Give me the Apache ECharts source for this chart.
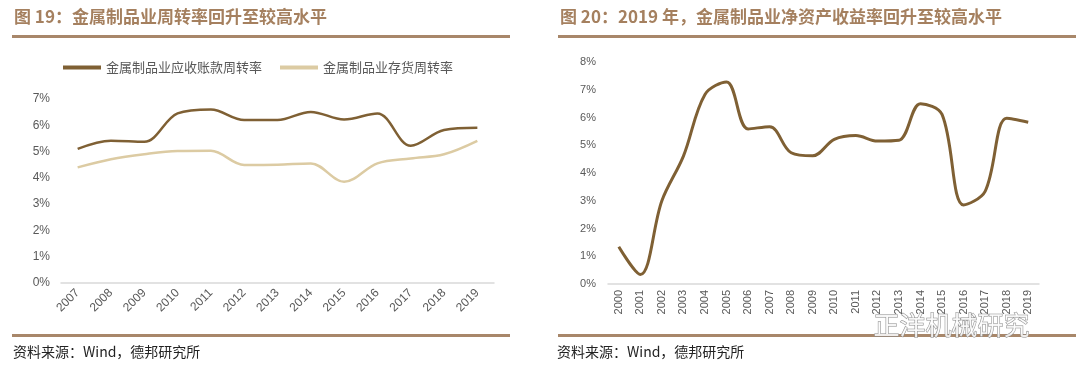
<!DOCTYPE html>
<html>
<head>
<meta charset="utf-8">
<script src="https://cdn.jsdelivr.net/npm/echarts@6/dist/echarts.min.js"></script>
<style>
  html, body { margin: 0; padding: 0; background: #fff; }
  #main { width: 1080px; height: 375px; }
</style>
</head>
<body>
<div id="main"></div>
<script>
// 图19 数据
const years19 = ['2007', '2008', '2009', '2010', '2011', '2012', '2013', '2014', '2015', '2016', '2017', '2018', '2019'];
const receivableTurnover = [5.10, 5.41, 5.37, 6.45, 6.60, 6.20, 6.20, 6.51, 6.22, 6.45, 5.22, 5.82, 5.91];
const inventoryTurnover = [4.40, 4.71, 4.90, 5.02, 5.03, 4.49, 4.50, 4.55, 3.85, 4.55, 4.74, 4.90, 5.41];

// 图20 数据
const years20 = ['2000', '2001', '2002', '2003', '2004', '2005', '2006', '2007', '2008', '2009',
  '2010', '2011', '2012', '2013', '2014', '2015', '2016', '2017', '2018', '2019'];
const roe = [1.34, 0.34, 3.0, 4.61, 6.83, 7.28, 5.59, 5.67, 4.73, 4.62,
  5.21, 5.35, 5.15, 5.18, 6.50, 6.11, 2.85, 3.34, 5.97, 5.83];

const darkBrown = '#7f6034';
const lightTan = '#dccba3';
const ruleColor = '#a8876a';
const titleColor = '#a5805f';
const font = '"Noto Sans CJK SC", "Noto Sans", sans-serif';

const myChart = echarts.init(document.getElementById('main'));

const axisText = { color: '#595959', fontFamily: 'Liberation Sans, Arial, sans-serif' };

myChart.setOption({
  animation: false,
  textStyle: { fontFamily: font },
  legend: {
    left: 58,
    top: 56,
    icon: 'rect',
    itemWidth: 38,
    itemHeight: 4,
    itemGap: 18,
    textStyle: { color: '#595959', fontSize: 13, fontFamily: font },
    data: ['金属制品业应收账款周转率', '金属制品业存货周转率']
  },
  grid: [
    { left: 61, right: 586, top: 99, bottom: 92 },
    { left: 608, right: 41, top: 62, bottom: 91 }
  ],
  xAxis: [
    {
      gridIndex: 0,
      type: 'category',
      data: years19,
      axisTick: { show: false },
      axisLine: { lineStyle: { color: '#d9d9d9', width: 1.5 } },
      axisLabel: Object.assign({ rotate: 45, interval: 0, margin: 8, fontSize: 12 }, axisText)
    },
    {
      gridIndex: 1,
      type: 'category',
      data: years20,
      axisTick: { show: false },
      axisLine: { lineStyle: { color: '#d9d9d9', width: 1.5 } },
      axisLabel: Object.assign({ rotate: 90, interval: 0, margin: 6, fontSize: 11 }, axisText)
    }
  ],
  yAxis: [
    {
      gridIndex: 0,
      type: 'value',
      min: 0, max: 7, interval: 1,
      splitLine: { show: false },
      axisLine: { show: false },
      axisTick: { show: false },
      axisLabel: Object.assign({ formatter: '{value}%', margin: 11, fontSize: 12 }, axisText)
    },
    {
      gridIndex: 1,
      type: 'value',
      min: 0, max: 8, interval: 1,
      splitLine: { show: false },
      axisLine: { show: false },
      axisTick: { show: false },
      axisLabel: Object.assign({ formatter: '{value}%', margin: 12, fontSize: 11 }, axisText)
    }
  ],
  series: [
    {
      name: '金属制品业应收账款周转率',
      type: 'line',
      xAxisIndex: 0, yAxisIndex: 0,
      data: receivableTurnover,
      smooth: 0.35,
      showSymbol: false,
      lineStyle: { color: darkBrown, width: 2.5 },
      itemStyle: { color: darkBrown }
    },
    {
      name: '金属制品业存货周转率',
      type: 'line',
      xAxisIndex: 0, yAxisIndex: 0,
      data: inventoryTurnover,
      smooth: 0.35,
      showSymbol: false,
      lineStyle: { color: lightTan, width: 2.5 },
      itemStyle: { color: lightTan }
    },
    {
      name: '金属制品业净资产收益率',
      type: 'line',
      xAxisIndex: 1, yAxisIndex: 1,
      data: roe,
      smooth: 0.35,
      showSymbol: false,
      lineStyle: { color: darkBrown, width: 3 },
      itemStyle: { color: darkBrown }
    }
  ],
  graphic: [
    // 标题
    { type: 'text', left: 14, top: 8, style: { text: '图 19：金属制品业周转率回升至较高水平', fill: titleColor, font: 'bold 17px ' + font } },
    { type: 'text', left: 560, top: 8, style: { text: '图 20：2019 年，金属制品业净资产收益率回升至较高水平', fill: titleColor, font: 'bold 17px ' + font } },
    // 分隔线
    { type: 'rect', shape: { x: 12, y: 35, width: 498, height: 3 }, style: { fill: ruleColor } },
    { type: 'rect', shape: { x: 558, y: 35, width: 518, height: 3 }, style: { fill: ruleColor } },
    { type: 'rect', shape: { x: 12, y: 334, width: 498, height: 3 }, style: { fill: ruleColor } },
    { type: 'rect', shape: { x: 558, y: 334, width: 518, height: 3 }, style: { fill: ruleColor } },
    // 资料来源
    { type: 'text', left: 13, top: 345, style: { text: '资料来源：Wind，德邦研究所', fill: '#222', font: '14px ' + font } },
    { type: 'text', left: 557, top: 345, style: { text: '资料来源：Wind，德邦研究所', fill: '#222', font: '14px ' + font } },
    // 水印
    { type: 'text', left: 873, top: 312, z: 100, style: { text: '正洋机械研究', fill: 'rgba(255,255,255,0.85)', stroke: '#8a8a8a', lineWidth: 1, font: '26px ' + font } }
  ]
});
</script>
</body>
</html>
